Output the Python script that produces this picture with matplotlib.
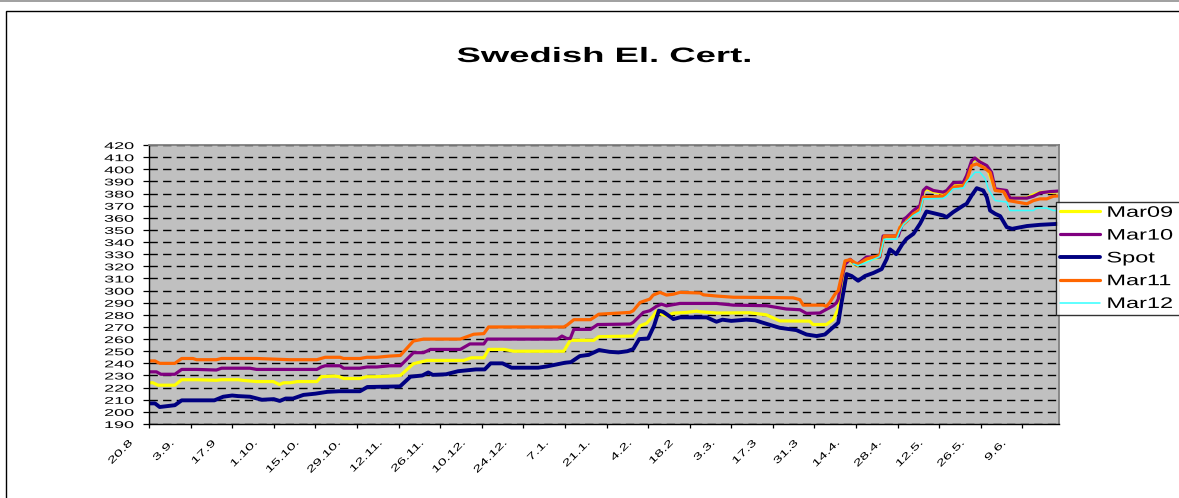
import matplotlib
matplotlib.use("Agg")
import matplotlib.pyplot as plt
from matplotlib.patheffects import AbstractPathEffect
from matplotlib.transforms import Affine2D, ScaledTranslation
from matplotlib.patches import Rectangle
from matplotlib.lines import Line2D

# ---------------- data (days after 20.8.2007) ----------------
tick_labels = ["20.8", "3.9.", "17.9", "1.10.", "15.10.", "29.10.", "12.11.", "26.11.",
               "10.12.", "24.12.", "7.1.", "21.1.", "4.2.", "18.2", "3.3.", "17.3",
               "31.3", "14.4.", "28.4.", "12.5.", "26.5.", "9.6."]
tick_step_days = 14

mar09_days = [0, 1.3, 3, 8.7, 11, 16, 22.7, 24.4, 30, 31.5, 36.2, 41.8, 43.9, 45.3, 47.5, 50,
              56.5, 58, 62.5, 64, 65.5, 71, 73.3, 76.7, 81, 84.6, 89, 93.6, 105.9, 108.5,
              112.7, 114.3, 119.5, 122.8, 139.6, 141.8, 149.7, 151.4, 163, 165.3, 167.5,
              169.7, 170.8, 172, 174.2, 176.5, 181, 184.3, 185.5, 191, 202.3, 207.8, 212.3,
              222.4, 223.5, 228, 230.3, 232, 233.1, 234.3, 236, 238.1, 241.5, 246, 247.1,
              251.6, 253.9, 257.2, 259.5, 260.6, 261.7, 264, 267.3, 268.5, 270.7, 274.1,
              275.2, 277, 278.6, 281, 282.5, 284.8, 288.7, 289.8, 295.5, 297.7, 299.9, 303, 306]
mar09_vals = [224, 224, 222, 222, 226.5, 226.5, 226, 226.5, 226.5, 226, 225, 225, 222.5, 224,
              224, 225, 225, 229, 229.5, 229, 227.5, 227.5, 229, 229, 229.5, 230, 239.7, 242.4,
              242.4, 244.6, 244.6, 251.5, 251.5, 250, 250, 259, 259, 262, 262.5, 271, 273, 279,
              283, 281, 279.2, 281.4, 282, 283, 282.5, 281.5, 281.7, 280, 275, 274.8, 272, 272,
              276, 285, 305, 324, 324.5, 320.3, 325, 327.5, 344, 344.5, 358, 364, 369, 381, 384,
              381.5, 380, 382, 388, 388.5, 394, 406.5, 408.5, 403.5, 399, 383, 382, 376, 376.5,
              379, 381, 381, 381.5]

mar10_days = [0, 2.5, 4, 8.7, 11, 16, 22.7, 24.4, 34, 36.2, 56.5, 58, 59.3, 64.3, 65.5, 71,
              73.3, 76.7, 81, 84.6, 89, 92.4, 94.7, 104.8, 108, 112.7, 113.8, 137.5, 139,
              140.6, 141.8, 143, 148.6, 151, 162, 163, 166.4, 168.6, 170.8, 172.5, 174.2,
              178.7, 191, 196.7, 207.9, 214.5, 219.1, 221.3, 225.8, 228, 230.3, 231.4, 232,
              233.1, 234.3, 236, 238.1, 241.5, 246, 247.1, 252.2, 254.1, 255, 257.3, 259.5,
              260.6, 261.7, 264, 267.3, 268.5, 270.7, 274.1, 275.2, 276.9, 278, 279.7, 282,
              283.6, 284.8, 288.7, 289.8, 295.5, 297.7, 299.9, 303.3, 306]
mar10_vals = [233, 233, 231, 231, 235, 235, 234.5, 236, 236, 235, 235, 237, 238, 238, 236, 236,
              237, 237, 238, 238, 248.8, 248.8, 251.5, 251.5, 256, 256, 260, 260, 262.5, 260.5,
              260.5, 268, 268, 272, 272.4, 273.8, 282, 283.4, 287, 288.8, 287.4, 289.4, 289.4,
              288, 287.5, 284.8, 284.2, 281.2, 281.5, 284.5, 287.5, 290, 293, 309.5, 321.8,
              325.8, 321, 327.7, 327.7, 345, 345, 358.9, 360.5, 366, 370.1, 382.5, 385.2, 382.5,
              381.1, 382.5, 388.8, 389.3, 394.8, 407.1, 409.3, 406, 403, 397.5, 383.8, 382.5,
              376.2, 376.2, 377.8, 380.5, 381.6, 382]

spot_days = [0, 2, 3.6, 7, 8.7, 11, 22, 25, 28, 30, 34, 38, 42, 44, 46, 48.5, 52, 56, 60, 64,
             71, 73.5, 84.5, 88, 92, 94, 95.5, 100, 104, 110, 113, 115, 119, 122, 131, 134,
             140, 142, 145, 148, 151.5, 155, 158, 161, 163, 165, 168, 170, 171.6, 173, 175,
             176.5, 178.7, 187.7, 191, 193, 196, 201, 204, 207.8, 212.3, 217.9, 221.3, 224.7,
             227.5, 232, 233.1, 234.8, 236.5, 238.7, 241, 243.8, 246.6, 248.3, 249.4, 251.5,
             253.5, 255, 257.3, 259.5, 261.7, 267.3, 268.5, 270.7, 274.1, 275.2, 276.9, 278.6,
             280.8, 282, 283.1, 284.8, 286.5, 288.7, 290.5, 295.5, 299.9, 302.2, 306]
spot_vals = [207, 207, 204, 205, 205.5, 209.5, 209.5, 212.5, 213.5, 213, 212.5, 210, 210.5, 209,
             211, 211, 214, 215, 216.5, 217, 217, 220.5, 221, 229, 230, 232.5, 230.5, 231,
             233.5, 235, 235, 240, 240, 236.4, 236.4, 237.5, 240.5, 241, 246, 247, 251, 249.5,
             249, 250, 251.8, 260, 260.5, 271, 283.4, 282.5, 279.2, 276.5, 277.9, 277.9, 274.3,
             276, 275, 276, 275.5, 272.6, 269.3, 267.4, 263.8, 262.5, 263.8, 273.5, 290, 313.6,
             312, 308.1, 312, 314.5, 317.7, 326, 334, 330, 338, 342.7, 346.8, 355, 365.2,
             361.9, 360.5, 364.7, 370.1, 371.5, 378.4, 384.4, 382.5, 377, 366, 363.3, 361.4,
             352.3, 350.9, 353.2, 354.2, 354.5, 355]

mar11_days = [0, 2, 3.6, 8.7, 11, 14.8, 16, 22.7, 24.4, 36.2, 41.8, 47.5, 56.5, 59.3, 64.3,
              65.5, 71, 73.3, 76.7, 81, 84.6, 89, 92.4, 104.8, 109.3, 112.7, 114.3, 139.6,
              140.7, 143, 148.6, 151.4, 161.9, 163, 165.3, 168.6, 169.7, 172, 174.2, 176.5,
              178.7, 185.5, 186.6, 191, 196.7, 207.9, 216.8, 219.1, 220.2, 226.9, 228, 229.1,
              230.9, 232, 233.1, 234.3, 236, 237.6, 238.7, 241.5, 246, 247.5, 251.6, 252.8,
              255, 257.3, 259.5, 260.6, 267.3, 268.5, 270.7, 274.1, 275.2, 276.9, 278.6, 280.8,
              283.1, 284.8, 287.6, 289.3, 295.5, 297.7, 299.9, 302.2, 304.4, 306]
mar11_vals = [242, 242, 240, 240, 244, 244, 243, 243, 244, 244, 243.5, 243, 243, 245, 245, 244,
              244, 245, 245, 246, 246.5, 258.4, 260, 260, 264, 264.5, 270, 270, 271.5, 276, 276,
              280.5, 282, 283.4, 290.2, 293, 296.3, 298.5, 296.3, 297, 298.5, 298, 296.5, 295.5,
              294.5, 294.3, 294, 292.5, 288, 288, 287, 290, 297, 300, 312, 324.5, 325.5, 323,
              321.8, 326, 329, 345, 345, 352.3, 357, 363.3, 366.5, 377, 377.8, 379.7, 385.2,
              386.5, 390.7, 403, 404.4, 401.6, 397.5, 382.5, 381.6, 374.2, 371.5, 374.2, 375.6,
              375.6, 377.8, 378]

mar12_days = [237, 238.7, 242.7, 246, 247.4, 251.6, 252.8, 254, 257.3, 259.5, 260.6, 267.3,
              268.5, 270.7, 274.1, 275.2, 278, 279.7, 281.4, 282.5, 284.8, 288.7, 289.8, 297.7,
              298.8, 302.2, 304.4, 306]
mar12_vals = [322, 320.5, 324.5, 328, 342.3, 342.3, 349.6, 354.7, 361.9, 365, 375.6, 376, 378,
              383.8, 384.5, 389.3, 397.5, 397.5, 392.5, 383.8, 374.2, 373, 366, 366, 368, 368,
              366, 366]

series = [
    ("Mar09", mar09_days, mar09_vals, "#FFFF00", 2.3),
    ("Mar10", mar10_days, mar10_vals, "#800080", 2.3),
    ("Spot", spot_days, spot_vals, "#000080", 2.8),
    ("Mar11", mar11_days, mar11_vals, "#FF6600", 2.3),
    ("Mar12", mar12_days, mar12_vals, "#33FFFF", 1.1),
]


# ---------------- helper: horizontal stretch of real text ----------------
class HStretch(AbstractPathEffect):
    def __init__(self, sx, pivot="center"):
        super().__init__()
        self.sx = sx
        self.pivot = pivot

    def draw_path(self, renderer, gc, tpath, affine, rgbFace=None):
        if len(tpath.vertices) == 0:
            return
        ext = tpath.get_extents()
        if self.pivot == "left":
            px = 0.0
        elif self.pivot == "right":
            px = ext.x1
        else:
            px = 0.5 * (ext.x0 + ext.x1)
        t = Affine2D().translate(-px, 0).scale(self.sx, 1.0).translate(px, 0)
        renderer.draw_path(gc, tpath, t + affine, rgbFace)


FONT = ["Liberation Sans", "DejaVu Sans"]
plt.rcParams["font.family"] = FONT

W, H = 1179, 498
fig = plt.figure(figsize=(W / 100, H / 100), dpi=100)
fig.patch.set_facecolor("white")

# plot area (pixels: left 149, right 1059, top 145, bottom 424)
L, R, T, B = 149, 1059, 145, 424
ax = fig.add_axes([L / W, 1 - B / H, (R - L) / W, (B - T) / H])
ax.set_facecolor("#C0C0C0")

for name, d, v, c, lw in series:
    ax.plot(d, v, color=c, lw=lw, label=name, solid_joinstyle="round",
            solid_capstyle="round")

ax.set_ylim(190, 420)
ax.set_xlim(0, 306.3)
ax.set_yticks(range(190, 421, 10))
ax.yaxis.grid(True, color="black", lw=1.0, linestyle=(0, (6.0, 3.8)))
ax.set_axisbelow(True)

for s in ("top", "right"):
    ax.spines[s].set_color("#808080")
    ax.spines[s].set_linewidth(1.3)
for s in ("left", "bottom"):
    ax.spines[s].set_color("black")
    ax.spines[s].set_linewidth(1.0)

ax.tick_params(axis="y", direction="out", length=4.5, width=0.9, pad=6.5,
               labelsize=7, colors="black")
ax.tick_params(axis="x", direction="out", length=3, width=0.9, pad=7,
               labelsize=7, colors="black")

ticks = [i * tick_step_days for i in range(len(tick_labels))]
ax.set_xticks(ticks)
ax.set_xticklabels(tick_labels, rotation=45, ha="right", va="top",
                   rotation_mode="anchor")

shift = ScaledTranslation(-22 / 100, 0, fig.dpi_scale_trans)
for lab in ax.get_xticklabels():
    lab.set_transform(lab.get_transform() + shift)
    lab.set_path_effects([HStretch(1.6, "right")])
for lab in ax.get_yticklabels():
    lab.set_path_effects([HStretch(1.85, "right")])

# title
title = fig.text(604.5 / W, 1 - 62 / H, "Swedish El. Cert.", ha="center",
                 va="baseline", fontsize=15, fontweight="bold", color="black")
title.set_path_effects([HStretch(1.75, "center")])

# legend (box runs off the right edge of the picture)
leg = fig.legend(loc="upper left", bbox_to_anchor=(1056 / W, 1 - 315 / H, 0.2, 113 / H),
                 bbox_transform=fig.transFigure, mode="expand", fontsize=11,
                 frameon=True, fancybox=False, borderpad=0.25, labelspacing=0.575,
                 handlelength=2.6, handletextpad=0.45, borderaxespad=0.0)
leg.get_frame().set_edgecolor("black")
leg.get_frame().set_linewidth(1.0)
leg.get_frame().set_facecolor("white")
for t in leg.get_texts():
    t.set_path_effects([HStretch(1.54, "left")])

# outer chart frame
fig.patches.append(Rectangle((5.5 / W, -0.2), 1.5, 1.2 - 10.5 / H, transform=fig.transFigure,
                             fill=False, edgecolor="black", linewidth=1.0))
fig.lines.append(Line2D([0, 1], [1 - 0.7 / H] * 2, transform=fig.transFigure,
                        color="#909090", linewidth=1.2))

fig.savefig("out.png", dpi=100)
